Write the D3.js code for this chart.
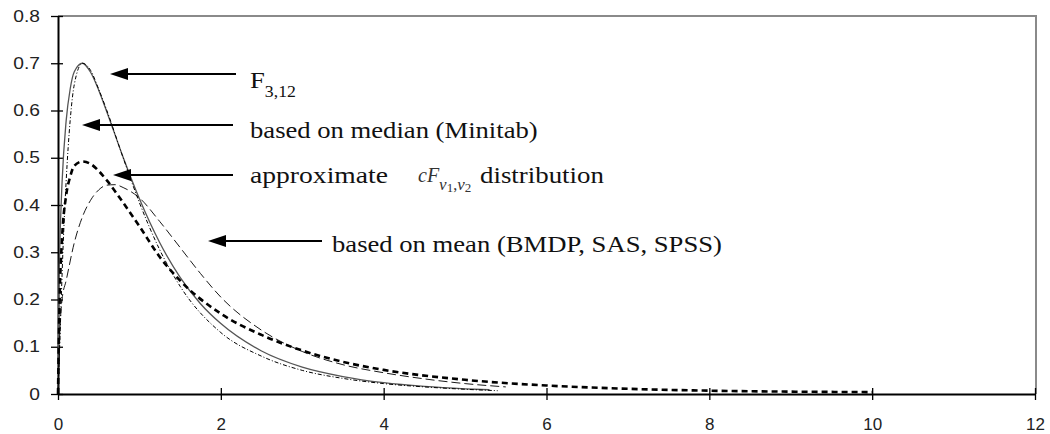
<!DOCTYPE html>
<html>
<head>
<meta charset="utf-8">
<script src="https://cdn.jsdelivr.net/npm/d3@7"></script>
<style>
  body { margin: 0; background: #fff; }
  svg { display: block; }
  .tick text { font-family: "Liberation Sans", Arial, sans-serif; fill: #222; }
  .note { font-family: "Liberation Serif", "Times New Roman", serif; fill: #111; }
  .eq { font-family: "Liberation Serif", "Times New Roman", serif; fill: #333; }
</style>
</head>
<body>
<div id="chart"></div>
<script>
// values
var fX = [0, 0.01, 0.02, 0.05, 0.1, 0.15, 0.2, 0.3, 0.4, 0.5, 0.6, 0.8, 1.0, 1.25, 1.5, 1.75, 2.0, 2.5, 3.0, 3.5, 4.0, 4.5, 5.0, 5.3];
var fY = [0, 0.215, 0.3, 0.448, 0.578, 0.646, 0.682, 0.7, 0.681, 0.643, 0.597, 0.501, 0.413, 0.32, 0.247, 0.191, 0.149, 0.091, 0.057, 0.037, 0.024, 0.016, 0.011, 0.009];

var medianX = [0, 0.03, 0.06, 0.1, 0.15, 0.2, 0.3, 0.4, 0.5, 0.6, 0.8, 1.0, 1.25, 1.5, 2.0, 2.5, 3.0, 3.5, 4.0, 4.5, 5.0, 5.4];
var medianY = [0, 0.15, 0.3, 0.45, 0.58, 0.655, 0.7, 0.685, 0.645, 0.6, 0.5, 0.405, 0.305, 0.228, 0.13, 0.08, 0.05, 0.033, 0.022, 0.015, 0.01, 0.007];

var cfX = [0, 0.02, 0.05, 0.1, 0.15, 0.2, 0.3, 0.4, 0.5, 0.6, 0.8, 1.0, 1.25, 1.5, 2.0, 2.5, 3.0, 3.5, 4.0, 5.0, 6.0, 7.0, 8.0, 9.0, 10.0];
var cfY = [0, 0.2, 0.33, 0.42, 0.46, 0.483, 0.492, 0.487, 0.472, 0.452, 0.405, 0.355, 0.29, 0.24, 0.17, 0.125, 0.092, 0.068, 0.051, 0.03, 0.018, 0.011, 0.007, 0.005, 0.004];

var meanX = [0, 0.02, 0.05, 0.1, 0.2, 0.3, 0.4, 0.5, 0.6, 0.7, 0.8, 1.0, 1.25, 1.5, 1.75, 2.0, 2.5, 3.0, 3.5, 4.0, 4.5, 5.0, 5.5];
var meanY = [0, 0.12, 0.2, 0.24, 0.32, 0.375, 0.41, 0.432, 0.442, 0.443, 0.437, 0.415, 0.365, 0.31, 0.255, 0.205, 0.135, 0.09, 0.062, 0.045, 0.032, 0.022, 0.015];

var xTicks = [0, 2, 4, 6, 8, 10, 12];
var yTicks = [0, 0.1, 0.2, 0.3, 0.4, 0.5, 0.6, 0.7, 0.8];

var W = 1050, H = 434;
var plotL = 58, plotR = 1036, plotT = 16, plotB = 394;

var svg = d3.select("#chart").append("svg")
  .attr("width", W)
  .attr("height", H);

var x = d3.scaleLinear().domain([0, 12]).range([plotL, plotR - 1]);
var y = d3.scaleLinear().domain([0, 0.8]).range([plotB, plotT]);

// grey frame on top and right
svg.append("path")
  .attr("d", "M" + plotL + "," + plotT + "H" + plotR + "V" + plotB)
  .attr("fill", "none")
  .attr("stroke", "#8a8a8a")
  .attr("stroke-width", 2);

var yAxis = svg.append("g")
  .attr("transform", "translate(" + plotL + ",0)")
  .call(d3.axisLeft(y).tickValues(yTicks).tickSizeOuter(0)
    .tickFormat(function(d) { return d === 0 ? "0" : d.toFixed(1); }));

yAxis.select(".domain").attr("stroke", "#000").attr("stroke-width", 2);
yAxis.selectAll(".tick line").attr("x1", -7).attr("x2", 5).attr("stroke-width", 1.3);
yAxis.selectAll(".tick text")
  .attr("font-size", 16)
  .attr("x", -15)
  .attr("transform", "scale(1.2,1)");

var xAxis = svg.append("g")
  .attr("transform", "translate(0," + plotB + ")")
  .call(d3.axisBottom(x).tickValues(xTicks).tickSizeOuter(0));

xAxis.select(".domain").attr("stroke", "#000").attr("stroke-width", 2);
xAxis.selectAll(".tick line").attr("y1", -6).attr("y2", 6).attr("stroke-width", 1.3);
xAxis.selectAll(".tick text")
  .attr("font-size", 17)
  .attr("y", 24);

// series
var series = [
  {xs: fX, ys: fY, stroke: "#555", width: 1.3, dash: null},
  {xs: medianX, ys: medianY, stroke: "#000", width: 1, dash: "4,2,1,2"},
  {xs: meanX, ys: meanY, stroke: "#000", width: 0.9, dash: "9,4"},
  {xs: cfX, ys: cfY, stroke: "#000", width: 2.6, dash: "6,4"}
];

var line = d3.line()
  .x(function(d) { return x(d[0]); })
  .y(function(d) { return y(d[1]); })
  .curve(d3.curveMonotoneX);

svg.selectAll(".series").data(series)
  .enter()
  .append("path")
  .attr("class", "series")
  .attr("d", function(s) { return line(d3.zip(s.xs, s.ys)); })
  .attr("fill", "none")
  .attr("stroke", function(s) { return s.stroke; })
  .attr("stroke-width", function(s) { return s.width; })
  .attr("stroke-dasharray", function(s) { return s.dash; });

// arrows
var arrows = [
  {y: 74, tip: 110, tail: 236},
  {y: 125, tip: 82, tail: 233},
  {y: 175, tip: 113, tail: 233},
  {y: 241, tip: 208, tail: 322}
];

var ag = svg.selectAll(".arrow").data(arrows).enter().append("g").attr("class", "arrow");
ag.append("line")
  .attr("x1", function(d) { return d.tip + 10; })
  .attr("x2", function(d) { return d.tail; })
  .attr("y1", function(d) { return d.y; })
  .attr("y2", function(d) { return d.y; })
  .attr("stroke", "#000")
  .attr("stroke-width", 2);
ag.append("path")
  .attr("d", function(d) {
    return "M" + d.tip + "," + d.y + "L" + (d.tip + 18) + "," + (d.y - 6) + "L" + (d.tip + 18) + "," + (d.y + 6) + "Z";
  })
  .attr("fill", "#000");

// labels
function note(tx, ty, sx) {
  return svg.append("text")
    .attr("class", "note")
    .attr("transform", "translate(" + tx + "," + ty + ") scale(" + (sx || 1.11) + ",1)")
    .attr("font-size", 24);
}

var t1 = note(250, 88);
t1.append("tspan").text("F");
t1.append("tspan").attr("font-size", 16).attr("dy", 9).text("3,12");

note(250, 138).text("based on median (Minitab)");

note(250, 183, 1.15).text("approximate");

// c F_{nu1,nu2} set like an equation object
var eq = svg.append("text")
  .attr("class", "eq")
  .attr("transform", "translate(418,182)");
eq.append("tspan").attr("font-style", "italic").attr("font-size", 20).text("cF");
eq.append("tspan").attr("font-style", "italic").attr("font-size", 17).attr("dy", 8).text("\u03bd");
eq.append("tspan").attr("font-size", 13).attr("dy", 2).text("1");
eq.append("tspan").attr("font-size", 16).attr("dy", -2).text(",");
eq.append("tspan").attr("font-style", "italic").attr("font-size", 17).text("\u03bd");
eq.append("tspan").attr("font-size", 13).attr("dy", 2).text("2");

note(480, 183, 1.12).text("distribution");

note(332, 252).text("based on mean (BMDP, SAS, SPSS)");
</script>
</body>
</html>
